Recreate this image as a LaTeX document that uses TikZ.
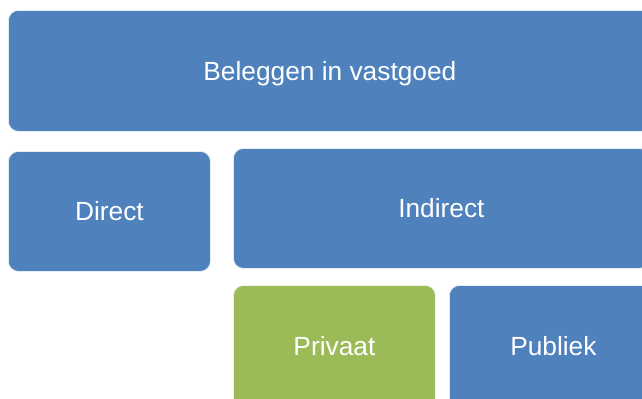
\documentclass[tikz,border=0pt]{standalone}
\usepackage{fontspec}
\setmainfont{Liberation Sans}
\definecolor{boxblue}{HTML}{4F81BD}
\definecolor{boxgreen}{HTML}{9BBB59}
\begin{document}
\begin{tikzpicture}[x=1bp,y=-1bp,
  card/.style={draw=white!85!boxblue, line width=0.8bp, rounded corners=10bp, inner sep=0pt,
     text=white, font=\fontsize{26.3bp}{30bp}\selectfont, text depth=0bp, anchor=north west},
  bluecard/.style={card, fill=boxblue},
  greencard/.style={card, fill=boxgreen, draw=white!85!boxgreen}]
\useasboundingbox (0,0) rectangle (642,398);
\clip (0,0) rectangle (642,398);
\fill[white] (0,0) rectangle (642,398);
\node[bluecard, minimum width=643bp, minimum height=121bp] (top) at (8,10) {Beleggen in vastgoed};
\node[bluecard, minimum width=202bp, minimum height=120bp] (direct) at (8,151) {Direct};
\node[bluecard, minimum width=416bp, minimum height=120bp] (indirect) at (233,148) {Indirect};
\node[greencard, minimum width=202bp, minimum height=122bp] (privaat) at (233,285) {Privaat};
\node[bluecard, minimum width=208bp, minimum height=122bp] (publiek) at (449,285) {Publiek};
\end{tikzpicture}
\end{document}
